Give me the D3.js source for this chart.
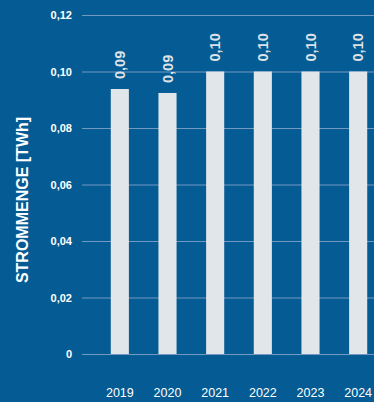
<!DOCTYPE html>
<html>
<head>
<meta charset="utf-8">
<script src="https://cdn.jsdelivr.net/npm/d3@7"></script>
<style>
  html, body { margin: 0; padding: 0; background: #055b93; }
  svg { display: block; }
</style>
</head>
<body>
<svg id="chart" width="374" height="402"></svg>
<script>
// Jahre und Strommenge in TWh
const years = ["2019", "2020", "2021", "2022", "2023", "2024"];
const values = [0.0938, 0.0924, 0.1, 0.1, 0.1, 0.1];
const valueLabels = ["0,09", "0,09", "0,10", "0,10", "0,10", "0,10"];
const yTicks = [0, 0.02, 0.04, 0.06, 0.08, 0.1, 0.12];
const yTitle = "STROMMENGE [TWh]";

const W = 374, H = 402;
const svg = d3.select("#chart");

svg.append("rect").attr("width", W).attr("height", H).attr("fill", "#055b93");

const y = d3.scaleLinear().domain([0, 0.12]).range([354, 15]);
const x = d3.scaleBand().domain(years).range([96, 382])
  .paddingInner(0.62).paddingOuter(0.31);

const fmt = d => d === 0 ? "0" : d3.format(".2f")(d).replace(".", ",");

// Gitterlinien und Beschriftung der Y-Achse
const yAxis = d3.axisLeft(y).tickValues(yTicks).tickFormat(fmt)
  .tickSize(-(W - 82)).tickPadding(10);
const gy = svg.append("g").attr("transform", "translate(82,0)").call(yAxis);
gy.select(".domain").remove();
gy.selectAll(".tick line").attr("stroke", "#7299c0").attr("stroke-width", 1);
gy.selectAll(".tick text")
  .attr("fill", "#ffffff")
  .attr("font-family", "Liberation Sans, Arial, sans-serif")
  .attr("font-weight", "bold")
  .attr("font-size", 11)
  .attr("x", -10);

// Balken
svg.append("g").selectAll("rect").data(years).join("rect")
  .attr("x", d => x(d))
  .attr("width", x.bandwidth())
  .attr("y", (d, i) => y(values[i]))
  .attr("height", (d, i) => y(0) - y(values[i]))
  .attr("fill", "#e1e6ea");

// Werte über den Balken, senkrecht gedreht
svg.append("g").selectAll("text").data(years).join("text")
  .attr("transform", (d, i) =>
    `translate(${x(d) + x.bandwidth() / 2 + 5},${y(values[i]) - 10}) rotate(-90)`)
  .attr("text-anchor", "start")
  .attr("fill", "#dce2e8")
  .attr("font-family", "Liberation Sans, Arial, sans-serif")
  .attr("font-weight", "bold")
  .attr("font-size", 14.5)
  .text((d, i) => valueLabels[i]);

// Jahresbeschriftung der X-Achse
const xAxis = d3.axisBottom(x).tickSize(0).tickPadding(0);
const gx = svg.append("g").attr("transform", "translate(0,388)").call(xAxis);
gx.select(".domain").remove();
gx.selectAll(".tick text")
  .attr("fill", "#ffffff")
  .attr("font-family", "Liberation Sans, Arial, sans-serif")
  .attr("font-size", 12.5)
  .attr("dy", "0.71em");

// Titel der Y-Achse
svg.append("text")
  .attr("transform", "translate(28,200) rotate(-90)")
  .attr("text-anchor", "middle")
  .attr("fill", "#ffffff")
  .attr("font-family", "Liberation Sans, Arial, sans-serif")
  .attr("font-weight", "bold")
  .attr("font-size", 16)
  .text(yTitle);
</script>
</body>
</html>
